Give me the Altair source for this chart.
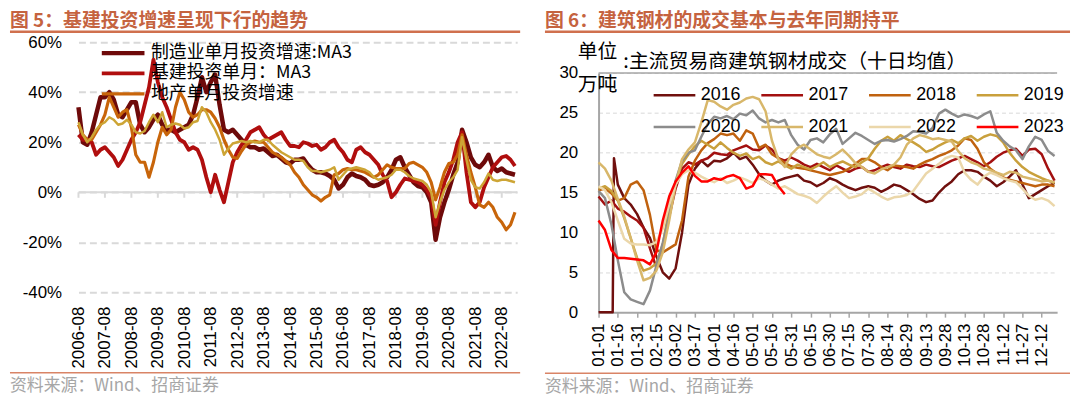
import json
import altair as alt
import pandas as pd

# ---------------- left panel data (monthly index from 2006-08) ----------------
LEFT_MONTHS = list(range(0, 200, 2))
LEFT_TICK_MONTHS = list(range(0, 193, 12))
LEFT_TICK_LABELS = ["2006-08", "2007-08", "2008-08", "2009-08", "2010-08", "2011-08",
                    "2012-08", "2013-08", "2014-08", "2015-08", "2016-08", "2017-08",
                    "2018-08", "2019-08", "2020-08", "2021-08", "2022-08"]
LEFT_SERIES = ["制造业单月投资增速:MA3", "基建投资单月：MA3", "地产单月投资增速", "固定资产投资单月增速"]
LEFT_COLORS = ["#6E0A0A", "#B00E0E", "#C8650A", "#CDA535"]
LEFT_WIDTHS = [4.5, 2.5, 2.5, 3]

MANUF = [34, 20, 19, 24, 31, 38, 38, 40, 37, 31,
         30, 33, 36, 36, 27, 24, 26, 29, 31, 27,
         25, 25, 24, 25, 26, 27, 31, 38, 46, 40,
         44, 47, 35, 25, 24, 25, 23, 21, 19, 18,
         18, 17, 17.5, 16, 14.5, 15, 13.5, 12, 11.5, 13,
         13, 13.5, 11, 9, 8, 8, 7.5, 6.5, 5, 1.5,
         3, 6, 7.5, 6.5, 6, 5, 3, 2.5, 3, 4,
         6, 9, 13, 14, 10, 7, 4, 2.5, 2, 0,
         -4, -19, -10, -4, 1, 7, 12, 25, 20, 14,
         11, 10, 12, 15, 10, 8.5, 9.5, 8, 7.5, 7]
INFRA = [23, 21, 21, 20, 15, 17, 18, 16, 14, 10.5,
         13, 17, 21, 24, 28, 35, 42, 53, 44, 38,
         34, 29, 24, 21, 20, 17, 18, 17, 13, 6,
         0, 7, 1, -4, 4, 12, 16, 19, 21, 24,
         25, 26, 23, 21, 22, 23, 24, 21, 18.5, 18.5,
         18, 20, 19.5, 18.5, 19, 17, 18, 20, 21, 18,
         16, 13, 12, 17, 18, 16, 15, 13, 11, 7,
         4.5, -2, 0, 3, 5.5, 5, 4.5, 4, 3, 1,
         -2, -13, -4, 4, 8, 13, 20, 24, 8, -4,
         -6, -4, 2, 6, 10, 12, 14, 14.5, 13, 10.5]
REALTY = [27, 23, 21, 21, 24, 27, 31, 38, 34, 30,
          32, 33, 26, 15, 12, 12, 6, 12, 20, 26,
          23, 25, 34, 40, 37, 32, 30, 31, 33, 33,
          32, 29.5, 26, 21, 17, 14, 13.5, 16.5, 19, 20,
          20.5, 20, 20, 18, 16, 15, 14, 12.5, 11, 8,
          6, 3, 1, -1, -2, -3.5, -2, -1, 7, 7.5,
          9, 9.5, 9, 9, 8.5, 8, 7, 6, 7, 9,
          11, 10, 9.5, 9.5, 9.5, 11.5, 12, 11, 10, 8,
          4, -3, 2, 8, 11.5, 12, 15, 23, 15, 8,
          2, -5, -6, -4, -6, -10, -12, -15, -13, -8]
TOTAL = [28, 23, 20, 22, 25, 27, 28, 30, 29, 27,
         27.5, 29, 27, 24, 23.5, 24.5, 28, 31, 28, 32,
         26, 27, 27.5, 27, 25.5, 26, 28, 28.5, 34, 32,
         28, 25, 21, 15, 17.5, 19.5, 20, 20.5, 20, 20.5,
         20, 20, 21, 21, 19, 17.5, 16, 15, 14, 13,
         13, 12.5, 10, 8.5, 8.5, 8, 8.5, 9, 10, 5,
         7, 9, 9.5, 10, 9.5, 9, 8, 6, 5, 5.5,
         6, 7, 9, 9, 8, 6.5, 5.5, 5, 4.5, 3,
         0, -10, -4, 1, 4, 6, 9, 22, 13, 5,
         2, 1.5, 4, 7.5, 5, 4.5, 5, 5, 4.5, 4]

# ---------------- right panel data (day of year) ----------------
RIGHT_TICK_DAYS = list(range(0, 361, 15))
RIGHT_TICK_LABELS = ["01-01", "01-16", "01-31", "02-15", "03-02", "03-17", "04-01", "04-16",
                     "05-01", "05-16", "05-31", "06-15", "06-30", "07-15", "07-30", "08-14",
                     "08-29", "09-13", "09-28", "10-13", "10-28", "11-12", "11-27", "12-12", "12-27"]
YEARS = ["2016", "2017", "2018", "2019", "2020", "2021", "2022", "2023"]
YEAR_COLORS = ["#70100E", "#A31010", "#C0620F", "#C9A03C", "#8C8C8C", "#D8B76A", "#EBD7AA", "#FF0000"]
YEAR_WIDTHS = [2.5, 2.5, 2.5, 2.5, 2.5, 2.5, 2.5, 4]

DAYS = list(range(0, 356, 5))
D2016 = [0, 5, 10, 11, 12] + list(range(15, 356, 5))
D2023 = list(range(0, 146, 5))

Y2016 = [0, 0, 0, 0, 19.3,
         16, 14.3, 13.5, 12.3, 10.6, 9.3, 7, 5, 4.2, 5.5,
         10, 16, 18, 19, 18.3, 19, 18.9, 19.3, 20, 19.2,
         19.5, 18.5, 17.3, 16.5, 16, 16.5, 16.8, 17, 17.2, 16.5,
         16.3, 15.8, 16.2, 16.8, 16.5, 16, 15.6, 15.3, 15.6, 15.8,
         15.6, 15.1, 15.5, 16, 15.8, 15.3, 14.8, 14.2, 13.8, 14,
         15, 15.8, 16.4, 17.3, 17.8, 17.8, 17.6, 17, 16.5, 15.8,
         16.3, 17, 17.8, 16, 14.3, 14.8, 15.3, 15.8, 16.2]
Y2017 = [14.5, 13.5, 14, 13, 12.6, 12, 11.5, 10.6, 8, 5.6,
         8, 12, 15.5, 18, 18.8, 18.5, 19, 19.3, 20, 19.8,
         19.7, 20.3, 20.6, 20.9, 20.4, 20.3, 20.9, 20.4, 19.3, 19,
         19.4, 19, 18.5, 18.2, 18.6, 18.2, 17.8, 18.4, 18, 17.6,
         18, 18.2, 17.6, 17.8, 18.2, 18.5, 18.2, 18, 18.5, 18.3,
         18.2, 18.5, 18.3, 18.2, 18.6, 19, 19.3, 19.6, 19.2, 18.8,
         18.3, 18.8, 19.5, 20, 20.3, 20.5, 19.6, 20.4, 20.5, 19.8, 18, 16.5]
Y2018 = [15.3, 15.5, 14.9, 14, 14.3, 16, 16.4, 15.3, 12.2, 7.8,
         7.5, 8, 8.5, 11.5, 17, 19, 20.3, 21.2, 21.7, 22.4,
         22.2, 22.4, 21.5, 22.8, 22.4, 20.6, 21, 19.8, 19.3, 18.7,
         18.3, 18.1, 18, 17.8, 17.6, 17.4, 17.2, 17.4, 17.6, 18,
         18.6, 19.2, 19.2, 18.8, 18.2, 17.8, 18.4, 18.3, 18.2, 18,
         18.5, 18.9, 19.2, 19.6, 19.9, 20.3, 20.9, 21.8, 21.6, 20.5,
         18.8, 18, 17.4, 16.9, 16.6, 16.4, 16.2, 16, 15.8, 16, 16, 15.8]
Y2019 = [15.5, 15.8, 15.2, 14, 11.8, 9.3, 6.8, 5.2, 5.5, 6.1,
         8.5, 13, 16.3, 18.6, 19.8, 20.8, 21.5, 21, 20.5, 21.3,
         20.6, 20, 19.6, 19.9, 19.2, 19.5, 18.8, 18.5, 18.9, 18.4,
         18, 18.5, 18.2, 17.9, 18.3, 18.8, 18.2, 18.6, 18.9, 18.5,
         18.2, 18.8, 19.3, 20.5, 21.5, 22, 21.5, 22.2, 21.7, 21.3,
         20.8, 20.1, 20.4, 20.9, 21.3, 21.6, 21.2, 21.8, 22.1, 21.5,
         22, 22.3, 22.1, 21.3, 20, 19, 18.2, 17.6, 17.2, 16.8, 16.5, 16.2]
Y2020 = [15.2, 14.3, 11, 6.5, 2.5, 1.6, 1.3, 1.0, 2.7, 5.8,
         8.7, 12, 16.5, 19, 20, 20.3, 22, 23.6, 24.5, 24.3,
         24.6, 24.2, 24.9, 24.7, 25.3, 24.3, 23.8, 24.1, 23.8, 24.1,
         22.2, 21, 20.4, 21.6, 21.8, 21.3, 22.3, 23, 21.1, 21.8,
         22.5, 22.1, 21.6, 21.1, 21.5, 21.6, 21.4, 21.7, 22.1, 22.7,
         22.6, 22.4, 23.1, 24.9, 25.4, 24.9, 24.5, 24.8, 24.6, 24.3,
         24.8, 25.2, 22.5, 21.5, 20.8, 20.3, 19.2, 20.8, 22, 21.6, 20.2, 19.6]
Y2021 = [18.8, 18, 16.5, 14.2, 12, 9.3, 6.5, 4, 4.3, 5.2,
         7.5, 11.5, 16, 19.2, 20.4, 21.3, 23.8, 26.6, 26.4, 25.8,
         25.4, 26, 26.3, 26.8, 27, 26.7, 25.2, 21.5, 19.2, 18.2,
         19.8, 20.6, 21, 20.4, 19.8, 19.5, 19.3, 19.8, 20.4, 19.6,
         18.7, 18.2, 17.6, 17.4, 17.9, 18.2, 18.5, 19.4, 21, 21.8,
         22.2, 22, 21.7, 21.8, 21.6, 21.4, 20.2, 19.3, 18.8, 18.5,
         18, 17.8, 17.5, 17.2, 17.6, 17.5, 17, 16.8, 16.6, 16.4, 16.5, 16.3]
Y2022 = [15.8, 15.3, 13.8, 11.5, 9.2, 8.6, 8.5, 8.5, 8.4, 8.8,
         10.5, 13.5, 16, 17.3, 17.8, 17.5, 17, 16.6, 16.3, 16.8,
         16.2, 16.5, 16.9, 16.6, 16.2, 16.8, 16.5, 16, 15.5, 15.8,
         15.3, 14.8, 14.6, 14.3, 13.7, 14.5, 15.2, 15.8, 15, 14.3,
         14.5, 14.8, 15.5, 15, 14.5, 14.1, 14.4, 14.5, 14.7, 15.2,
         16.3, 17.4, 18, 18.6, 19.3, 19.6, 19.4, 17.5, 16.6, 16,
         17, 17.5, 17.2, 16.8, 16.5, 16.3, 15.5, 14.6, 14.1, 14.3, 14, 13.3]
Y2023 = [11.5, 10.3, 7.8, 6.8, 6.8, 6.7, 6.6, 6.5, 6, 7.5,
         11.5, 14.5, 16.4, 17.5, 18.3, 17.1, 16.4, 16.4, 16.8, 16.6,
         17, 17.2, 16.8, 15.5, 15.8, 17.3, 17.3, 17.2, 15.8, 14.8]

# ---------------- build tables ----------------
left_rows = []
for name, vals in zip(LEFT_SERIES, [MANUF, INFRA, REALTY, TOTAL]):
    for m, v in zip(LEFT_MONTHS, vals):
        left_rows.append({"m": m, "v": v, "series": name})
left_df = pd.DataFrame(left_rows)

right_rows = []
for yr, days, vals in zip(YEARS,
                          [D2016, DAYS, DAYS, DAYS, DAYS, DAYS, DAYS, D2023],
                          [Y2016, Y2017, Y2018, Y2019, Y2020, Y2021, Y2022, Y2023]):
    for d, v in zip(days, vals):
        right_rows.append({"d": d, "v": v, "year": yr})
right_df = pd.DataFrame(right_rows)

TITLE_COLOR = "#C5633F"
RULE_COLOR = "#D0704E"
SRC_RULE_COLOR = "#D98466"
SRC_COLOR = "#A6A6A6"
CJK = "Noto Sans CJK SC"
LAT = "Liberation Sans"
one = pd.DataFrame({"t": [""]})


def text_mark(txt, x, y, size, color="#000000", font=CJK, weight="normal"):
    return alt.Chart(pd.DataFrame({"t": [txt]})).mark_text(
        align="left", baseline="middle", fontSize=size, font=font,
        fontWeight=weight, color=color
    ).encode(text="t:N", x=alt.value(x), y=alt.value(y))


def hrule(x1, x2, y, color, width):
    return alt.Chart(one).mark_rule(color=color, strokeWidth=width).encode(
        x=alt.value(x1), x2=alt.value(x2), y=alt.value(y))


# ---------------- left panel ----------------
W1, H1 = 442, 252
xL = alt.X("m:Q", scale=alt.Scale(domain=[0, 199], nice=False, zero=False),
           axis=alt.Axis(values=LEFT_TICK_MONTHS,
                         labelExpr=json.dumps(LEFT_TICK_LABELS) + "[round(datum.value/12)]",
                         labelAngle=-90, labelFontSize=17, labelFont=LAT, labelColor="#000000",
                         labelPadding=14, domain=False, ticks=False, grid=False, title=None,
                         labelFlush=False, labelOverlap=False))
yL = alt.Y("v:Q", scale=alt.Scale(domain=[-40, 60], nice=False, zero=False),
           axis=alt.Axis(values=[-40, -20, 0, 20, 40, 60], labelExpr="datum.value + '%'",
                         labelFontSize=17, labelFont=LAT, labelColor="#000000", labelPadding=17,
                         domain=False, ticks=False, grid=True, gridDash=[7, 4],
                         gridColor="#D9D9D9", gridWidth=2, title=None, labelFlush=False))
legL = alt.Legend(orient="none", legendX=21, legendY=2, direction="vertical", columns=1,
                  title=None, values=LEFT_SERIES[:3], symbolType="stroke", symbolSize=1849,
                  labelFont=CJK, labelFontSize=18, labelColor="#000000", labelOffset=4,
                  clipHeight=18, rowPadding=2.5, padding=0, labelLimit=400)

base_left = alt.Chart(left_df).mark_line(strokeJoin="round").encode(
    x=xL, y=yL,
    color=alt.Color("series:N", scale=alt.Scale(domain=LEFT_SERIES, range=LEFT_COLORS), legend=legL),
    strokeWidth=alt.StrokeWidth("series:N", scale=alt.Scale(domain=LEFT_SERIES, range=LEFT_WIDTHS), legend=legL),
)
left_lines = [base_left.transform_filter(alt.datum.series == s) for s in LEFT_SERIES]

zero_line = alt.Chart(one).mark_rule(color="#D9D9D9", strokeWidth=2).encode(
    y=alt.datum(0), x=alt.value(0), x2=alt.value(W1))
left_ticks = alt.Chart(pd.DataFrame({"m": LEFT_TICK_MONTHS})).mark_rule(
    color="#D9D9D9", strokeWidth=2).encode(x=xL, y=alt.datum(0), y2=alt.datum(-2.2))

left = alt.layer(
    zero_line, left_ticks, *left_lines,
    text_mark("图 5：基建投资增速呈现下行的趋势", -69, -21.5, 19, TITLE_COLOR, weight="bold"),
    hrule(-69, 445, -10.5, RULE_COLOR, 2.5),
    hrule(-69, 445, 333, SRC_RULE_COLOR, 1.5),
    text_mark("资料来源：Wind、招商证券", -69, 346.5, 17, SRC_COLOR),
).properties(width=W1, height=H1)

# ---------------- right panel ----------------
# group origin is aligned with the left panel's plot top; the y range leaves room above
W2, H2, TOP2 = 462, 272, 31
xR = alt.X("d:Q", scale=alt.Scale(domain=[0, 357], nice=False, zero=False),
           axis=alt.Axis(values=RIGHT_TICK_DAYS,
                         labelExpr=json.dumps(RIGHT_TICK_LABELS) + "[round(datum.value/15)]",
                         labelAngle=-90, labelFontSize=17, labelFont=LAT, labelColor="#000000",
                         labelPadding=6, domain=True, domainColor="#A6A6A6", domainWidth=2,
                         ticks=True, tickColor="#A6A6A6", tickWidth=1.5, tickSize=5,
                         grid=False, title=None, labelFlush=False, labelOverlap=False))
yR = alt.Y("v:Q", scale=alt.Scale(domain=[0, 30], range=[H2, TOP2], nice=False, zero=False),
           axis=alt.Axis(values=[0, 5, 10, 15, 20, 25, 30], labelFontSize=17, labelFont=LAT,
                         labelColor="#000000", labelPadding=21, domain=True,
                         domainColor="#A6A6A6", domainWidth=2, ticks=False, grid=True,
                         gridColor="#D9D9D9", gridDash=[4, 3], gridWidth=1, title=None,
                         labelFlush=False))
legR = alt.Legend(orient="none", legendX=54, legendY=TOP2 + 13.5, direction="horizontal",
                  columns=4, title=None, symbolType="stroke", symbolSize=1764, labelFont=LAT,
                  labelFontSize=18, labelColor="#000000", labelOffset=4, clipHeight=18,
                  rowPadding=14, columnPadding=18.5, padding=0)

base_right = alt.Chart(right_df).mark_line(strokeJoin="round").encode(
    x=xR, y=yR,
    color=alt.Color("year:N", scale=alt.Scale(domain=YEARS, range=YEAR_COLORS), legend=legR),
    strokeWidth=alt.StrokeWidth("year:N", scale=alt.Scale(domain=YEARS, range=YEAR_WIDTHS), legend=legR),
)
right_lines = [base_right.transform_filter(alt.datum.year == y) for y in YEARS]

top_line = alt.Chart(one).mark_rule(color="#A6A6A6", strokeWidth=1.5).encode(
    y=alt.datum(30), x=alt.value(0), x2=alt.value(W2))

right = alt.layer(
    top_line, *right_lines,
    text_mark("图 6：建筑钢材的成交基本与去年同期持平", -54, TOP2 - 52.5, 19, TITLE_COLOR, weight="bold"),
    hrule(-54, 475, TOP2 - 41.5, RULE_COLOR, 2.5),
    text_mark("单位", -21, TOP2 - 21, 20),
    text_mark(":主流贸易商建筑钢材成交（十日均值）", 25, TOP2 - 11, 20),
    text_mark("万吨", -21, TOP2 + 12.5, 20),
    hrule(-54, 475, TOP2 + 302.5, SRC_RULE_COLOR, 1.5),
    text_mark("资料来源：Wind、招商证券", -54, TOP2 + 316, 17, SRC_COLOR),
).properties(width=W2, height=H2)

chart = alt.hconcat(
    left, right, spacing=21,
    padding={"left": 0, "top": 2, "right": 0, "bottom": 0},
).resolve_scale(
    color="independent", strokeWidth="independent"
).resolve_legend(color="independent", strokeWidth="independent").configure_view(stroke=None)

chart.save("out.html", embed_options={"renderer": "svg", "actions": False})
